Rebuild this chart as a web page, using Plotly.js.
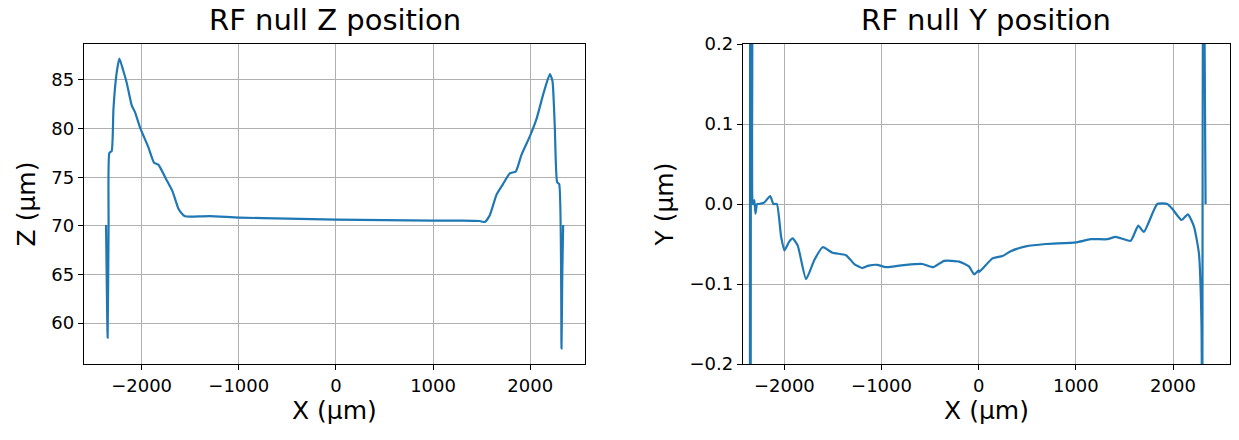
<!DOCTYPE html>
<html><head><meta charset="utf-8">
<script src="https://cdn.plot.ly/plotly-3.0.1.min.js"></script>
<style>body{margin:0}#c{width:1239px;height:440px}</style></head>
<body><div id="c"></div>
<script>
var zX = [-2366,-2350,-2340,-2332,-2308,-2290,-2260,-2229,-2190,-2153,-2102,-2068,-2016,-1931,-1872,-1828,-1742,-1680,-1622,-1580,-1553,-1500,-1300,-1000,-500,0,500,1000,1300,1480,1533,1584,1653,1720,1790,1852,1910,1996,2065,2133,2202,2229,2253,2277,2298,2322,2330,2339];
var zY = [70.1,58.5,70,77.5,77.7,82,85.5,87.2,86,84.7,82.4,81.7,80.1,78.1,76.5,76.3,74.7,73.5,71.8,71.2,71.0,70.95,71.0,70.85,70.75,70.65,70.6,70.55,70.55,70.5,70.4,71.1,73.2,74.3,75.4,75.6,77.3,79.2,81.0,83.5,85.6,84.9,80.2,74.5,74.3,57.4,65,70.1];
var yX = [-2355,-2351,-2347,-2343,-2339,-2335,-2331,-2327,-2323,-2318,-2308,-2297,-2280,-2263,-2205,-2146,-2112,-2077,-2033,-1999,-1950,-1914,-1862,-1776,-1691,-1605,-1503,-1365,-1280,-1200,-1131,-1045,-954,-748,-577,-468,-355,-201,-100,-46,0,5,142,245,330,485,691,999,1153,1325,1410,1564,1642,1700,1838,1941,1992,2088,2153,2215,2266,2293,2300,2310,2335];
var yY = [-0.5,0.5,-0.5,0.5,0.0,0.5,0.0,0.5,0.0,0.0,0.005,-0.012,0.0,0.0,0.002,0.010,0.0,0.0,-0.041,-0.058,-0.047,-0.043,-0.052,-0.094,-0.07,-0.054,-0.061,-0.064,-0.075,-0.080,-0.077,-0.076,-0.079,-0.076,-0.075,-0.079,-0.071,-0.072,-0.078,-0.088,-0.083,-0.085,-0.068,-0.065,-0.059,-0.053,-0.050,-0.048,-0.044,-0.044,-0.041,-0.046,-0.027,-0.035,0.0,0.0,-0.006,-0.020,-0.013,-0.028,-0.061,-0.15,-0.5,0.5,0.0];
var zTicks = [60,65,70,75,80,85];
var yTicks = [-0.2,-0.1,0.0,0.1,0.2];
var xTicks = [-2000,-1000,0,1000,2000];
var ln = {color:'#1f77b4', width:2.2, shape:'spline', smoothing:0.5};
var F = 'DejaVu Sans';
function ax(extra){
  return Object.assign({showline:true, mirror:true, linecolor:'black', linewidth:1.2, ticks:'outside', ticklen:5, tickcolor:'black',
    showgrid:true, gridcolor:'#b0b0b0', gridwidth:1, zeroline:false, tickfont:{family:F,size:18,color:'black'}}, extra);
}
var xt = {text:'X (μm)', font:{family:F,size:25,color:'black'}, standoff:6};
Plotly.newPlot('c', [
  {x:zX, y:zY, type:'scatter', mode:'lines', line:ln, xaxis:'x', yaxis:'y'},
  {x:yX, y:yY, type:'scatter', mode:'lines', line:ln, xaxis:'x2', yaxis:'y2'}
], {
  width:1239, height:440, showlegend:false, paper_bgcolor:'white', plot_bgcolor:'white',
  margin:{l:0,r:0,t:0,b:0},
  xaxis: ax({domain:[0.0678,0.472], range:[-2593,2562], tickvals:xTicks, ticktext:['−2000','−1000','0','1000','2000'], title:xt, anchor:'y'}),
  yaxis: ax({domain:[0.1727,0.9], range:[55.8,88.7], tickvals:zTicks, title:{text:'Z (μm)', font:{family:F,size:25,color:'black'}, standoff:8}, anchor:'x'}),
  xaxis2: ax({domain:[0.5997,0.9927], range:[-2425,2586], tickvals:xTicks, ticktext:['−2000','−1000','0','1000','2000'], title:xt, anchor:'y2'}),
  yaxis2: ax({domain:[0.1727,0.9], range:[-0.2,0.2], tickvals:yTicks, ticktext:['−0.2','−0.1','0.0','0.1','0.2'], title:{text:'Y (μm)', font:{family:F,size:25,color:'black'}, standoff:8}, anchor:'x2'}),
  annotations:[
    {text:'RF null Z position', x:0.27, y:0.955, xanchor:'center', yanchor:'middle', xref:'paper', yref:'paper', showarrow:false, font:{family:F,size:29,color:'black'}},
    {text:'RF null Y position', x:0.796, y:0.955, xanchor:'center', yanchor:'middle', xref:'paper', yref:'paper', showarrow:false, font:{family:F,size:29,color:'black'}}
  ]
}, {staticPlot:true});
</script></body></html>
